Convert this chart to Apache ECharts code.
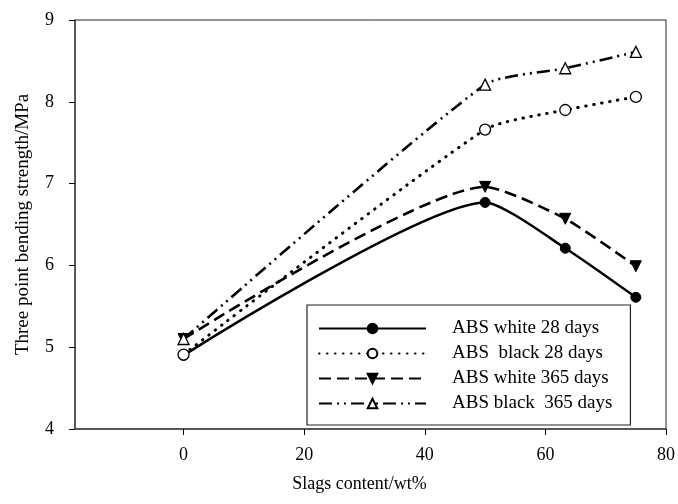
<!DOCTYPE html>
<html>
<head>
<meta charset="utf-8">
<script src="https://cdn.jsdelivr.net/npm/echarts@6/dist/echarts.min.js"></script>
<style>html,body{margin:0;padding:0;background:#fff}#c{width:678px;height:504px}</style>
</head>
<body>
<div id="c"></div>
<script>
const xValues = [0, 50, 63.3, 75];
const whiteDays28 = [4.90, 6.77, 6.21, 5.61];
const blackDays28 = [4.91, 7.66, 7.90, 8.06];
const whiteDays365 = [5.10, 6.96, 6.57, 5.99];
const blackDays365 = [5.10, 8.21, 8.41, 8.61];
const seriesNames = ['ABS white 28 days', 'ABS  black 28 days', 'ABS white 365 days', 'ABS black  365 days'];
const xTicks = [0, 20, 40, 60, 80];
const yTicks = [4, 5, 6, 7, 8, 9];

const FONT = 'Liberation Serif';
const SMOOTH = 0.2;
const pair = (vals) => xValues.map((x, i) => [x, vals[i]]);

const chart = echarts.init(document.getElementById('c'), null, {renderer: 'canvas'});
chart.setOption({
  animation: false,
  backgroundColor: '#fff',
  grid: {left: 75, right: 11, top: 20, bottom: 75, show: true, borderColor: '#222', borderWidth: 1, backgroundColor: 'transparent'},
  xAxis: {
    type: 'value', min: -18, max: 80,
    name: 'Slags content/wt%', nameLocation: 'middle', nameGap: 46,
    nameTextStyle: {fontFamily: FONT, fontSize: 18, color: '#000', padding: [0, 22, 0, 0]},
    axisLine: {show: true, onZero: false, lineStyle: {color: '#444', width: 1.5}},
    axisTick: {show: true, inside: false, length: 6, lineStyle: {color: '#000', width: 1}, customValues: xTicks},
    axisLabel: {fontFamily: FONT, fontSize: 18, color: '#000', margin: 17, customValues: xTicks},
    splitLine: {show: false}
  },
  yAxis: {
    type: 'value', min: 4, max: 9, interval: 1,
    name: 'Three point bending strength/MPa', nameLocation: 'middle', nameGap: 42,
    nameTextStyle: {fontFamily: FONT, fontSize: 19, color: '#000'},
    axisLine: {show: true, onZero: false, lineStyle: {color: '#444', width: 1.5}},
    axisTick: {show: true, inside: false, length: 6, lineStyle: {color: '#000', width: 1}, customValues: yTicks},
    axisLabel: {fontFamily: FONT, fontSize: 18, color: '#000', margin: 21, customValues: yTicks},
    splitLine: {show: false}
  },
  legend: {
    orient: 'vertical', left: 307, top: 305,
    padding: [14, 18, 12, 11],
    itemWidth: 107, itemHeight: 12, itemGap: 6,
    borderColor: '#222', borderWidth: 1.2, backgroundColor: '#fff',
    textStyle: {fontFamily: FONT, fontSize: 19, color: '#000', padding: [0, 0, 0, 21]},
    data: seriesNames
  },
  series: [
    {
      name: seriesNames[0], type: 'line', smooth: SMOOTH, data: pair(whiteDays28),
      symbol: 'circle', symbolSize: 10,
      itemStyle: {color: '#000', borderColor: '#000', borderWidth: 1},
      lineStyle: {color: '#000', width: 2.5, type: 'solid'}
    },
    {
      name: seriesNames[1], type: 'line', smooth: SMOOTH, data: pair(blackDays28),
      symbol: 'circle', symbolSize: 11,
      itemStyle: {color: '#fff', borderColor: '#000', borderWidth: 1.3},
      lineStyle: {color: '#000', width: 3, type: [0.5, 7.5], cap: 'round'}
    },
    {
      name: seriesNames[2], type: 'line', smooth: SMOOTH, data: pair(whiteDays365),
      symbol: 'triangle', symbolRotate: 180, symbolSize: 11,
      itemStyle: {color: '#000', borderColor: '#000', borderWidth: 1},
      lineStyle: {color: '#000', width: 2.6, type: [12, 6]}
    },
    {
      name: seriesNames[3], type: 'line', smooth: SMOOTH, data: pair(blackDays365),
      symbol: 'triangle', symbolSize: 11,
      itemStyle: {color: '#fff', borderColor: '#000', borderWidth: 1.3},
      lineStyle: {color: '#000', width: 2.6, type: [13, 5, 2, 5, 2, 5]}
    }
  ]
});
</script>
</body>
</html>
